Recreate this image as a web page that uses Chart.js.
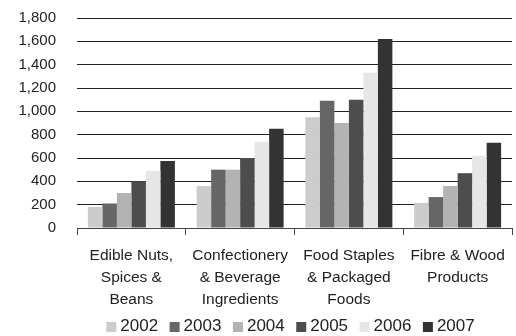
<!DOCTYPE html>
<html>
<head>
<meta charset="utf-8">
<script src="https://cdn.jsdelivr.net/npm/chart.js@4/dist/chart.umd.min.js"></script>
<style>
    html, body { margin: 0; padding: 0; background: #fff; }
    #wrap { width: 516px; height: 336px; }
</style>
</head>
<body>
<div id="wrap"><canvas id="chart" width="516" height="336"></canvas></div>
<script>
const categories = [
    ["Edible Nuts,", "Spices &", "Beans"],
    ["Confectionery", "& Beverage", "Ingredients"],
    ["Food Staples", "& Packaged", "Foods"],
    ["Fibre & Wood", "Products"],
];
const years = ["2002", "2003", "2004", "2005", "2006", "2007"];
const values2002 = [180, 360, 950, 215];
const values2003 = [210, 500, 1090, 265];
const values2004 = [300, 500, 900, 360];
const values2005 = [400, 600, 1100, 470];
const values2006 = [490, 740, 1330, 620];
const values2007 = [575, 850, 1620, 730];
const yTicks = [0, 200, 400, 600, 800, 1000, 1200, 1400, 1600, 1800];
const colors = ["#cccccc", "#666666", "#b3b3b3", "#4d4d4d", "#e6e6e6", "#333333"];

const seriesValues = [values2002, values2003, values2004, values2005, values2006, values2007];
const fontFamily = "'Liberation Sans', Arial, sans-serif";
const textColor = "#222222";

// legend with small square swatches drawn close to the labels
const boxLegend = {
    id: "boxLegend",
    afterDraw(chart) {
        const ctx = chart.ctx;
        const area = chart.chartArea;
        const box = 10;
        const gap = 4;
        const spacing = 11.5;
        const y = 326;

        ctx.save();
        ctx.font = `17px ${fontFamily}`;
        ctx.textBaseline = "middle";

        const items = chart.data.datasets.map((ds) => ({
            label: ds.label,
            color: ds.backgroundColor,
            width: ctx.measureText(ds.label).width,
        }));
        const total = items.reduce((sum, item) => sum + box + gap + item.width, 0) + spacing * (items.length - 1);
        let x = (area.left + area.right) / 2 - 4 - total / 2;

        items.forEach((item) => {
            ctx.fillStyle = item.color;
            ctx.fillRect(x, y - box / 2 + 1, box, box);
            x += box + gap;
            ctx.fillStyle = textColor;
            ctx.fillText(item.label, x, y);
            x += item.width + spacing;
        });

        ctx.restore();
    },
};

new Chart(document.getElementById("chart"), {
    type: "bar",
    data: {
        labels: categories,
        datasets: years.map((year, i) => ({
            label: year,
            data: seriesValues[i],
            backgroundColor: colors[i],
            borderWidth: 0,
            barPercentage: 1,
            categoryPercentage: 0.8,
        })),
    },
    options: {
        responsive: false,
        animation: false,
        devicePixelRatio: 1,
        layout: {
            padding: { top: 18, right: 4, bottom: 24, left: 0 },
        },
        plugins: {
            legend: { display: false },
            tooltip: { enabled: false },
        },
        scales: {
            x: {
                grid: {
                    offset: true,
                    drawOnChartArea: false,
                    drawTicks: true,
                    tickLength: 7,
                    color: "#444444",
                },
                border: { display: true, color: "#444444" },
                ticks: {
                    color: textColor,
                    font: { family: fontFamily, size: 15.5, lineHeight: 1.45 },
                    padding: 9,
                    maxRotation: 0,
                    autoSkip: false,
                },
                afterFit(scale) {
                    scale.height = 84;
                },
            },
            y: {
                min: 0,
                max: 1800,
                afterBuildTicks(scale) {
                    scale.ticks = yTicks.map((value) => ({ value }));
                },
                // invisible tick marks keep the labels away from the plot
                grid: {
                    color: "#222222",
                    drawTicks: true,
                    tickLength: 19,
                    tickColor: "rgba(0,0,0,0)",
                },
                border: { display: false },
                ticks: {
                    color: textColor,
                    font: { family: fontFamily, size: 15 },
                    padding: 2,
                    callback(value) {
                        return value.toLocaleString("en-US");
                    },
                },
                afterFit(scale) {
                    scale.width = 77;
                },
            },
        },
    },
    plugins: [boxLegend],
});
</script>
</body>
</html>
